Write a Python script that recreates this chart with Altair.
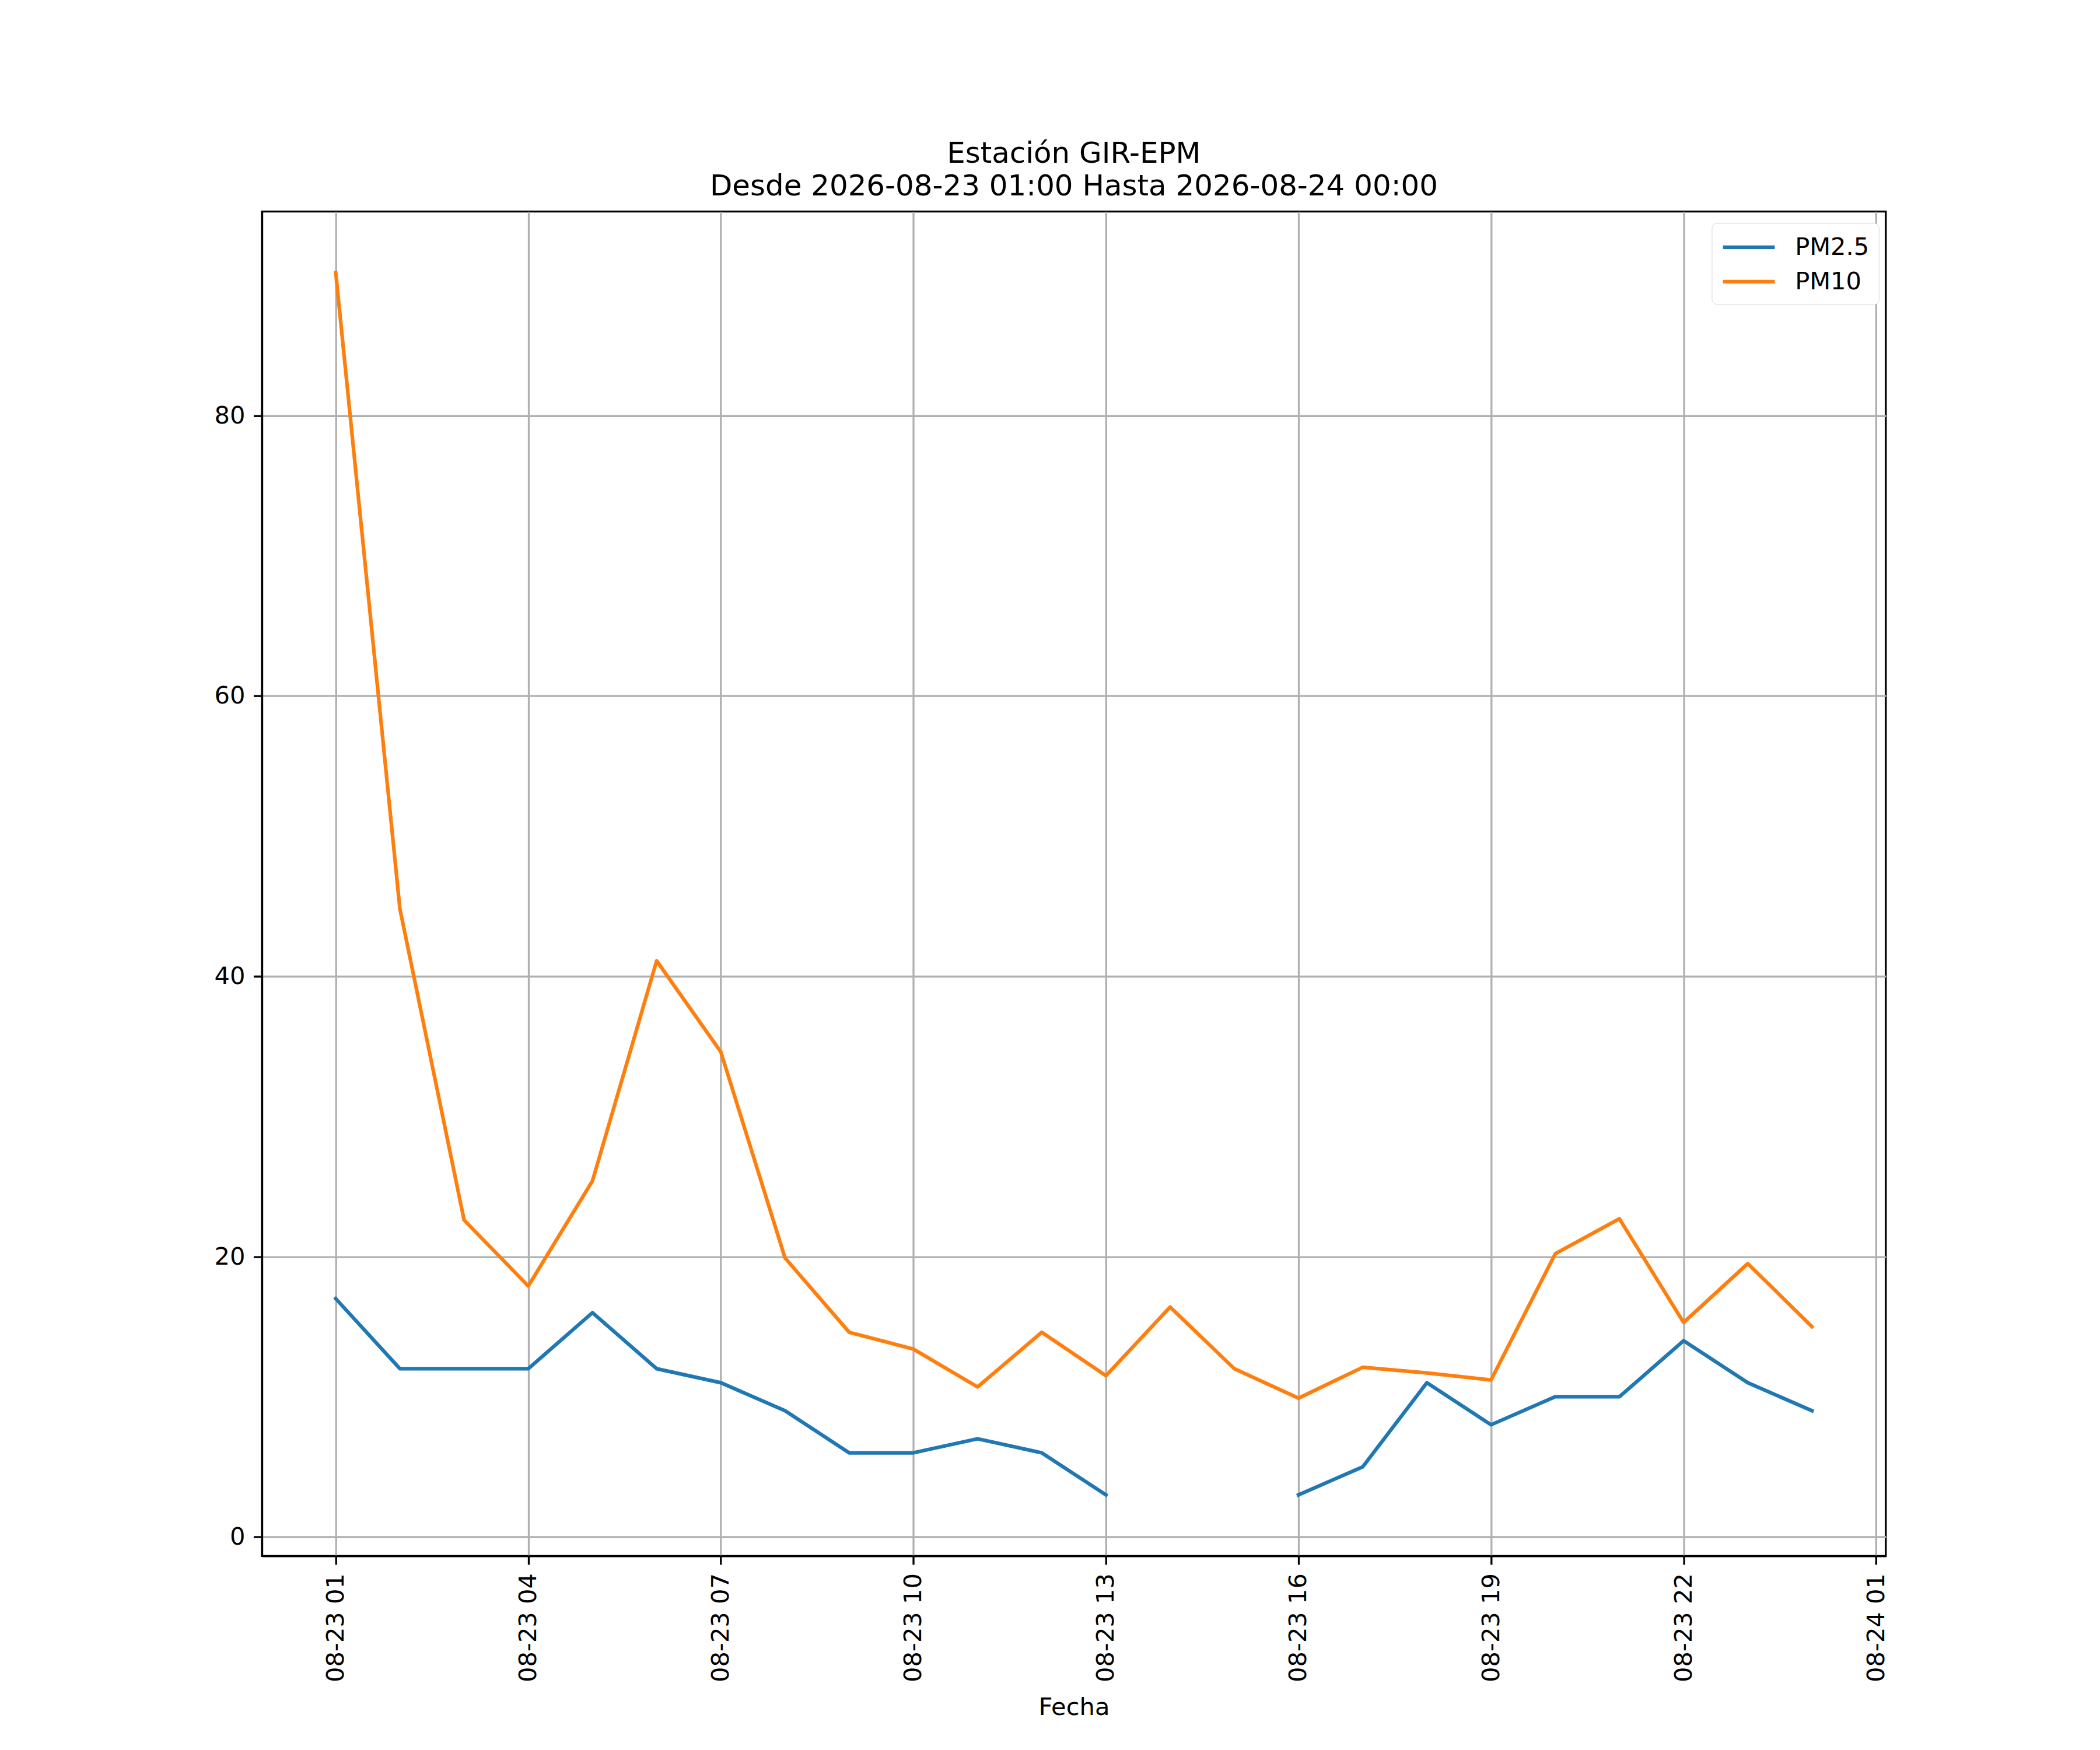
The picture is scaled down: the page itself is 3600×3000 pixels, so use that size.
import altair as alt
import pandas as pd

# ---- data ----
horas = ["01", "02", "03", "04", "05", "06", "07", "08", "09", "10", "11", "12",
         "13", "14", "15", "16", "17", "18", "19", "20", "21", "22", "23", "00"]
pm25 = [17, 12, 12, 12, 16, 12, 11, 9, 6, 6, 7, 6,
        3, None, None, 3, 5, 11, 8, 10, 10, 14, 11, 9]
pm10 = [90.2, 44.8, 22.6, 17.9, 25.4, 41.1, 34.6, 19.9, 14.6, 13.4, 10.7, 14.6,
        11.5, 16.4, 12.0, 9.9, 12.1, 11.7, 11.2, 20.2, 22.7, 15.3, 19.5, 15.0]
series = ["PM2.5", "PM10"]
colores = ["#1f77b4", "#ff7f0e"]
tick_labels = ["08-23 01", "08-23 04", "08-23 07", "08-23 10", "08-23 13",
               "08-23 16", "08-23 19", "08-23 22", "08-24 01"]
tick_pos = [0, 3, 6, 9, 12, 15, 18, 21, 24]
y_ticks = [0, 20, 40, 60, 80]
titulo = ["Estación GIR-EPM", "Desde 2026-08-23 01:00 Hasta 2026-08-24 00:00"]

rows = []
for name, vals in zip(series, [pm25, pm10]):
    tramo = 0
    for i, v in enumerate(vals):
        if v is None:
            tramo += 1
            continue
        rows.append({"pos": i, "hora": horas[i], "valor": v, "serie": name,
                     "tramo": f"{name}-{tramo}"})
df = pd.DataFrame(rows)

# matplotlib-like 5% margins
n = len(horas) - 1
xdom = [-0.05 * n, n + 0.05 * n]
vmin, vmax = df["valor"].min(), df["valor"].max()
span = vmax - vmin
ydom = [vmin - 0.05 * span, vmax + 0.05 * span]

FONT = "DejaVu Sans"
FS = 41.7
LW = 3.33

label_array = "[" + ",".join("'" + t + "'" for t in tick_labels) + "]"

chart = alt.Chart(df).mark_line(strokeWidth=6.25, strokeCap="square", strokeJoin="round").encode(
    x=alt.X("pos:Q",
            scale=alt.Scale(domain=xdom, nice=False, zero=False),
            axis=alt.Axis(values=tick_pos, labelExpr=label_array + "[round(datum.value/3)]",
                          labelAngle=270, labelAlign="right", labelBaseline="middle",
                          labelLimit=1000,
                          title="Fecha", titlePadding=40)),
    y=alt.Y("valor:Q",
            scale=alt.Scale(domain=ydom, nice=False, zero=False),
            axis=alt.Axis(values=y_ticks, title=None)),
    color=alt.Color("serie:N",
                    scale=alt.Scale(domain=series, range=colores),
                    legend=alt.Legend(title=None, orient="none", legendX=2491, legendY=20,
                                      symbolType="M-1,0H3", symbolSize=1980,
                                      symbolStrokeWidth=6.25, labelOffset=76,
                                      rowPadding=11, padding=16,
                                      strokeColor="#d6d6d6", cornerRadius=8,
                                      fillColor="white", labelFontSize=FS,
                                      labelFont=FONT, labelColor="black")),
    detail="tramo:N",
).properties(
    width=2790,
    height=2310,
    background="white",
    autosize=alt.AutoSizeParams(type="none"),
    padding={"left": 442, "top": 352, "right": 360, "bottom": 330},
    title=alt.TitleParams(text=titulo, fontSize=50, font=FONT, fontWeight="normal",
                          color="black", anchor="middle", lineHeight=56,
                          baseline="bottom", offset=-32),
).configure_view(
    stroke="black", strokeWidth=LW
).configure_axis(
    labelFont=FONT, labelFontSize=FS, labelColor="black",
    titleFont=FONT, titleFontSize=FS, titleColor="black", titleFontWeight="normal",
    domainColor="black", domainWidth=LW,
    tickColor="black", tickWidth=LW, tickSize=14.6,
    labelPadding=14.6,
    grid=True, gridColor="#b0b0b0", gridWidth=LW, gridOpacity=1,
)

chart.save("out.html", embed_options={"renderer": "svg", "actions": False})
